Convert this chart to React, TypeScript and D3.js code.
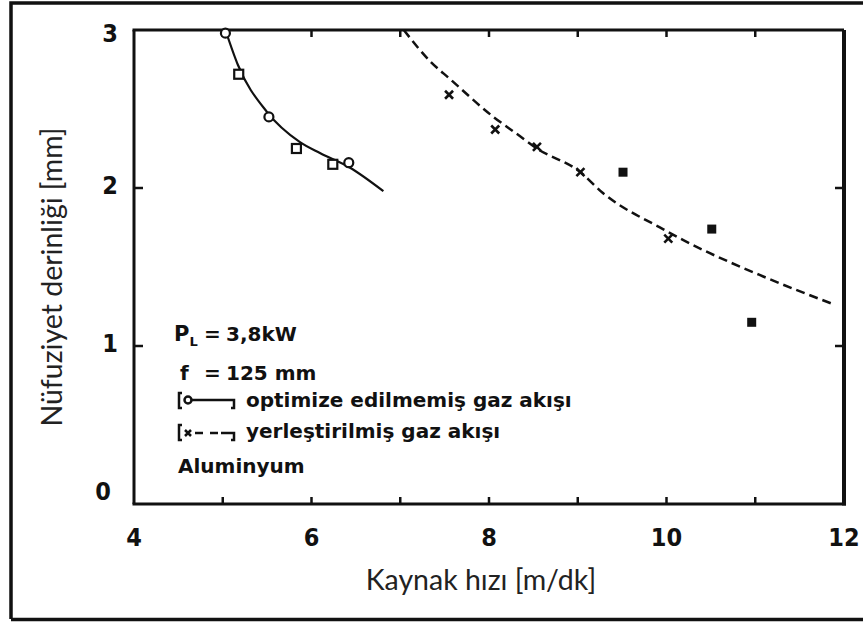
import React from "react";
import * as d3 from "d3";

// Curve of "optimize edilmemiş gaz akışı" (solid)
const curveA_speed = [5.03, 5.17, 5.5, 5.87, 6.1, 6.43, 6.81];
const curveA_depth = [3.0, 2.78, 2.48, 2.29, 2.22, 2.13, 1.98];
// measured points (o)
const pointsA_speed = [5.03, 5.18, 5.52, 5.83, 6.24, 6.42];
const pointsA_depth = [2.98, 2.72, 2.45, 2.25, 2.15, 2.16];
const pointsA_shape = ["circle", "square", "circle", "square", "square", "circle"];

// Curve of "yerleştirilmiş gaz akışı" (dashed)
const curveB_speed = [7.04, 7.34, 7.56, 8.05, 8.32, 8.54, 9.03, 9.28, 9.96, 10.19, 11.09, 11.9];
const curveB_depth = [3.0, 2.8, 2.69, 2.45, 2.34, 2.25, 2.1, 1.97, 1.74, 1.67, 1.44, 1.26];
// measured points (x)
const pointsB_speed = [7.55, 8.07, 8.54, 9.03, 10.02];
const pointsB_depth = [2.59, 2.37, 2.26, 2.1, 1.68];
// scattered points (filled)
const pointsC_speed = [9.51, 10.51, 10.96];
const pointsC_depth = [2.1, 1.74, 1.15];

const xLabelTicks = [4, 6, 8, 10, 12];
const xMinorTicks = [5, 6, 7, 8, 9, 10, 11];
const yLabelTicks = [0, 1, 2, 3];
const yMinorTicks = [1, 2];

const xTitle = "Kaynak hızı [m/dk]";
const yTitle = "Nüfuziyet derinliği [mm]";
const legendLines = [
  "optimize edilmemiş gaz akışı",
  "yerleştirilmiş gaz akışı",
  "Aluminyum",
];

export default function App() {
  const W = 863, H = 623;
  const x = d3.scaleLinear().domain([4, 12]).range([134, 844]);
  const y = d3.scaleLinear().domain([0, 3]).range([504, 30]);
  const line = d3
    .line<[number, number]>()
    .x((d) => x(d[0]))
    .y((d) => y(d[1]))
    .curve(d3.curveMonotoneX);
  const pathA = line(curveA_speed.map((s, i) => [s, curveA_depth[i]]))!;
  const pathB = line(curveB_speed.map((s, i) => [s, curveB_depth[i]]))!;

  const x0 = x.range()[0], x1 = x.range()[1];
  const yb = y(0), yt = y(3);
  const tickFont = "'DejaVu Sans Condensed', 'DejaVu Sans', sans-serif";
  const legFont = "'DejaVu Sans', sans-serif";
  const titleFont = "Lato, 'Open Sans', sans-serif";

  return (
    <svg
      width={W}
      height={H}
      style={{ position: "absolute", left: 0, top: 0, background: "#fff" }}
    >
      <rect x={0} y={0} width={W} height={H} fill="#fff" />
      {/* outer frame */}
      <path d={`M11,619 L11,3 L${W},3`} fill="none" stroke="#111" strokeWidth={3.5} />
      <path d={`M11,619.5 L${W},619.5`} fill="none" stroke="#111" strokeWidth={3.5} />

      {/* plot frame */}
      <line x1={x0} y1={yt} x2={x0} y2={yb} stroke="#111" strokeWidth={3} />
      <line x1={x0 - 1.5} y1={yt} x2={x1} y2={yt} stroke="#111" strokeWidth={3} />
      <line x1={x0 - 1.5} y1={yb} x2={x1 + 2} y2={yb} stroke="#111" strokeWidth={3} />
      <line x1={x1} y1={yt} x2={x1} y2={yb + 1.5} stroke="#111" strokeWidth={4} />

      {/* ticks */}
      {xMinorTicks.map((t) => (
        <g key={"xt" + t}>
          <line x1={x(t)} y1={yb} x2={x(t)} y2={yb - 7} stroke="#111" strokeWidth={2.5} />
          <line x1={x(t)} y1={yt} x2={x(t)} y2={yt + 7} stroke="#111" strokeWidth={2.5} />
        </g>
      ))}
      {yMinorTicks.map((t) => (
        <g key={"yt" + t}>
          <line x1={x0} y1={y(t)} x2={x0 + 9} y2={y(t)} stroke="#111" strokeWidth={2.5} />
          <line x1={x1} y1={y(t)} x2={x1 - 9} y2={y(t)} stroke="#111" strokeWidth={2.5} />
        </g>
      ))}

      {/* tick labels */}
      {xLabelTicks.map((t) => (
        <text
          key={"xl" + t}
          x={x(t)}
          y={546}
          textAnchor="middle"
          fontFamily={tickFont}
          fontWeight="bold"
          fontSize={25}
          fill="#111"
        >
          {t}
        </text>
      ))}
      {yLabelTicks.map((t) => (
        <text
          key={"yl" + t}
          x={t === 0 ? 111 : 118}
          y={t === 0 ? y(t) - 13 : t === 3 ? y(t) + 3 : y(t) - 3}
          dy="0.36em"
          textAnchor="end"
          fontFamily={tickFont}
          fontWeight="bold"
          fontSize={25}
          fill="#111"
        >
          {t}
        </text>
      ))}

      {/* axis titles */}
      <text x={481} y={590} textAnchor="middle" fontFamily={titleFont} fontSize={28.5} fill="#222">
        {xTitle}
      </text>
      <text
        transform={`translate(62,277) rotate(-90)`}
        textAnchor="middle"
        fontFamily={titleFont}
        fontSize={28.5}
        fill="#222"
      >
        {yTitle}
      </text>

      {/* curves */}
      <path d={pathA} fill="none" stroke="#111" strokeWidth={2.2} />
      <path d={pathB} fill="none" stroke="#111" strokeWidth={2.5} strokeDasharray="9 5" />

      {/* markers A */}
      {pointsA_speed.map((s, i) =>
        pointsA_shape[i] === "circle" ? (
          <circle key={"a" + i} cx={x(s)} cy={y(pointsA_depth[i])} r={4.5} fill="#fff" stroke="#111" strokeWidth={2.2} />
        ) : (
          <rect
            key={"a" + i}
            x={x(s) - 4.5}
            y={y(pointsA_depth[i]) - 4.5}
            width={9}
            height={9}
            fill="#fff"
            stroke="#111"
            strokeWidth={2.2}
          />
        )
      )}
      {/* markers B */}
      {pointsB_speed.map((s, i) => {
        const cx = x(s), cy = y(pointsB_depth[i]);
        return (
          <path
            key={"b" + i}
            d={`M${cx - 4},${cy - 4}L${cx + 4},${cy + 4}M${cx - 4},${cy + 4}L${cx + 4},${cy - 4}`}
            stroke="#111"
            strokeWidth={2.6}
          />
        );
      })}
      {pointsC_speed.map((s, i) => (
        <rect
          key={"c" + i}
          x={x(s) - 4.5}
          y={y(pointsC_depth[i]) - 4.5}
          width={9}
          height={9}
          fill="#111"
        />
      ))}

      {/* legend / annotations */}
      <g fontFamily={legFont} fontWeight="bold" fill="#111">
        <text x={174} y={341} fontSize={21}>
          P<tspan fontSize={13} dy={5}>L</tspan>
        </text>
        <text x={204} y={341} fontSize={20}>=</text>
        <text x={226} y={341} fontSize={20}>3,8kW</text>
        <text x={180} y={380} fontSize={20}>f</text>
        <text x={204} y={380} fontSize={20}>=</text>
        <text x={226} y={380} fontSize={20}>125 mm</text>
        {/* legend icons */}
        <g stroke="#111" strokeWidth={2.5} fill="none">
          <path d="M182,393 L179,393 L179,408 L182,408" />
          <circle cx={188} cy={400} r={3.5} fill="#fff" />
          <line x1={192} y1={400} x2={231} y2={400} />
          <path d="M231,400 L234,400 L234,408 L231,408" />
          <path d="M182,425 L179,425 L179,440 L182,440" />
          <path d="M185,430 L191,436 M185,436 L191,430" />
          <line x1={195} y1={433} x2={203} y2={433} />
          <line x1={210} y1={433} x2={218} y2={433} />
          <line x1={221} y1={433} x2={231} y2={433} />
          <path d="M231,433 L234,433 L234,440 L231,440" />
        </g>
        <text x={246} y={407} fontSize={20}>{legendLines[0]}</text>
        <text x={246} y={438} fontSize={20}>{legendLines[1]}</text>
        <text x={178} y={473} fontSize={20}>{legendLines[2]}</text>
      </g>
    </svg>
  );
}
